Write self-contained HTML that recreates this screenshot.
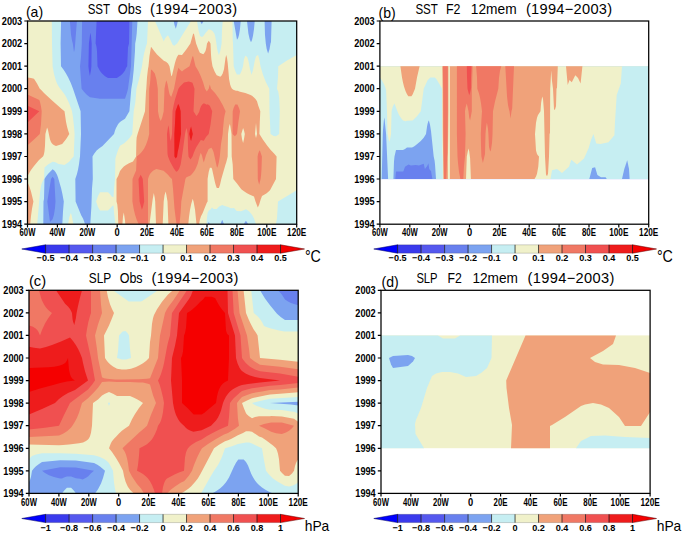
<!DOCTYPE html>
<html><head><meta charset="utf-8"><title>Hovmoller</title>
<style>html,body{margin:0;padding:0;background:#fff}svg{display:block}text{font-family:"Liberation Sans",sans-serif;fill:#000}.b{font-weight:bold}</style></head>
<body>
<svg width="685" height="533" viewBox="0 0 685 533">
<rect width="685" height="533" fill="#fff"/>
<g id="panel-a">
<g shape-rendering="geometricPrecision">
<rect x="27.5" y="21.0" width="269.2" height="203.2" fill="#5558ee"/>
<path fill="#6880ee" fill-rule="evenodd" d="M27.5 21.0L96.6 21.0L95.6 43.6L96.1 45.0L96.6 47.4L97.0 51.2L97.5 66.2L100.0 70.9L102.0 73.5L105.0 76.2L108.0 78.0L116.8 78.0L118.0 77.3L121.0 75.2L123.0 73.2L125.0 70.5L126.0 68.0L127.2 66.2L128.0 47.4L129.0 43.6L129.4 21.0L296.7 21.0L296.7 224.2L27.5 224.2ZM88.9 43.6L88.4 66.2L89.0 71.2L89.9 76.1L91.0 70.2L91.4 66.2L91.7 43.6L91.0 35.9L90.3 32.8Z"/>
<path fill="#7ca3f0" fill-rule="evenodd" d="M27.5 21.0L69.9 21.0L71.0 34.6L72.0 40.6L72.8 43.6L74.0 52.3L74.6 49.5L75.0 46.1L76.9 21.0L82.1 21.0L81.8 43.6L81.0 57.0L80.0 66.2L81.6 88.7L84.0 91.7L86.0 93.9L88.0 95.7L90.0 97.3L100.0 98.7L125.0 98.7L127.0 92.8L128.0 88.7L131.0 66.2L132.3 21.0L296.7 21.0L296.7 224.2L27.5 224.2ZM51.0 179.0L47.3 201.6L50.0 222.0L52.6 219.2L54.0 214.6L55.0 207.9L55.5 201.6L54.3 179.0L52.6 176.8Z"/>
<path fill="#c6eef2" fill-rule="evenodd" d="M27.5 21.0L61.1 21.0L60.6 43.6L61.0 66.2L63.8 70.0L66.0 73.5L68.1 77.3L70.8 82.9L73.0 88.7L80.6 111.3L81.0 133.9L80.0 156.5L79.0 164.2L78.0 169.8L76.9 174.3L75.3 179.0L75.6 201.6L81.2 215.3L83.0 218.4L84.0 220.9L85.0 224.2L62.3 224.2L63.0 211.6L63.8 201.6L62.3 193.5L61.1 188.2L58.0 177.4L57.0 174.8L55.5 172.1L54.3 170.5L52.6 169.2L48.0 173.9L46.0 176.6L44.5 179.0L44.0 199.0L43.5 201.6L43.3 224.2L27.5 224.2ZM135.2 43.6L136.0 39.3L136.7 33.4L137.5 21.0L173.7 21.0L174.5 25.1L175.8 28.8L177.0 24.7L177.8 21.0L200.0 21.0L201.8 24.2L203.5 21.0L233.7 21.0L237.0 39.8L238.2 37.8L239.0 35.0L240.0 28.8L240.7 21.0L247.0 21.0L248.4 33.5L249.7 39.3L251.0 42.3L252.0 39.9L253.0 35.8L254.0 29.1L254.7 21.0L264.6 21.0L265.0 34.9L265.8 43.6L266.7 49.0L268.1 53.6L269.5 49.3L270.5 43.6L271.0 41.9L271.6 21.0L296.7 21.0L296.7 224.2L248.3 224.2L245.9 220.7L243.6 224.2L224.0 224.2L222.2 219.8L220.4 224.2L210.0 224.2L208.8 221.9L207.6 224.2L90.3 224.2L91.4 206.5L92.0 188.6L92.8 179.0L92.5 156.5L94.0 153.9L96.6 150.6L99.0 148.4L102.5 146.1L114.0 133.9L115.0 130.4L116.0 127.9L117.9 124.5L119.0 123.1L121.0 121.2L123.0 119.9L125.0 118.8L129.4 111.3L131.3 88.7L132.5 81.5L133.7 70.1L135.0 50.7Z"/>
<path fill="#f0f1ca" fill-rule="evenodd" d="M27.5 21.0L51.8 21.0L52.0 43.6L52.6 66.2L54.0 74.1L55.5 79.6L57.0 83.4L59.0 87.0L64.5 94.3L66.0 96.8L69.0 103.0L71.0 108.2L72.0 111.3L73.0 117.6L74.0 126.5L74.6 133.9L73.7 156.5L71.5 158.7L69.4 161.4L67.0 163.3L64.4 165.0L62.0 164.4L58.5 163.9L56.0 162.5L54.3 161.9L52.6 161.7L48.0 164.4L44.5 167.5L44.0 179.0L43.0 180.5L41.7 183.6L41.0 186.2L40.0 192.6L37.2 224.2L27.5 224.2ZM147.0 43.6L148.0 21.0L155.0 21.0L163.8 41.4L164.5 39.6L165.6 37.8L166.4 36.7L168.0 35.3L170.0 39.1L172.5 44.4L173.7 45.5L174.5 45.8L175.5 44.7L177.1 43.4L191.0 21.0L197.0 21.0L198.5 30.5L200.0 36.1L201.8 37.1L203.2 36.3L205.5 32.9L208.8 29.3L210.5 29.8L211.4 30.3L212.5 31.1L213.6 32.4L214.3 33.6L215.0 35.5L216.0 40.7L217.2 49.3L218.0 52.4L218.9 54.9L220.3 51.0L221.6 43.6L222.0 30.5L222.7 21.0L232.5 21.0L232.7 39.4L233.0 43.6L233.7 66.2L235.2 71.0L236.9 74.5L239.8 74.6L241.0 72.2L242.0 69.7L243.0 66.2L244.0 59.3L245.3 55.8L247.2 56.9L248.4 60.8L250.0 69.0L251.6 74.8L253.0 70.0L254.7 61.1L256.0 56.4L256.1 56.2L258.0 54.9L258.1 55.0L259.4 59.8L260.5 66.2L262.9 74.6L265.8 82.0L269.3 88.7L269.5 111.3L270.5 133.9L273.6 135.9L276.1 136.2L279.2 133.9L279.8 111.3L279.2 97.8L278.3 91.8L277.0 88.7L278.0 77.1L278.3 66.2L287.0 60.4L296.7 54.9L296.7 190.3L278.0 201.6L277.0 218.0L276.6 220.7L275.8 224.2L256.0 224.2L254.0 218.4L252.0 214.8L249.5 211.8L248.0 210.6L245.9 209.2L243.6 210.3L241.0 211.2L236.7 211.0L234.0 208.1L230.9 208.2L228.1 206.9L224.0 205.7L222.2 205.0L218.8 206.8L216.8 208.9L213.6 209.1L212.0 207.4L210.5 209.6L208.8 210.6L207.6 212.9L206.9 218.4L206.4 224.2L115.4 224.2L114.0 212.7L113.5 205.3L112.0 206.2L110.0 208.6L108.0 210.4L100.0 210.4L98.0 207.0L96.1 201.6L98.0 195.9L100.0 192.3L108.0 192.3L110.0 194.2L112.0 196.7L113.5 197.3L114.0 188.9L115.0 179.0L115.4 158.4L116.5 154.7L118.0 150.2L120.0 145.8L123.8 143.4L127.0 140.8L130.0 137.4L132.3 133.9L133.7 111.3L135.2 103.2L136.0 95.0L136.4 88.7L138.7 80.6L141.0 70.9L142.0 66.2L143.0 59.1L144.2 52.9L146.0 46.3ZM68.1 224.2L69.3 217.2L70.8 212.9L71.5 214.7L73.4 224.2Z"/>
<path fill="#f0a27a" fill-rule="evenodd" d="M190.4 43.6L193.2 33.5L194.0 34.0L196.1 43.6L197.8 48.1L199.0 50.9L199.9 52.7L203.2 54.3L204.0 53.5L205.5 50.9L206.4 47.6L207.0 43.6L208.8 40.7L210.5 43.6L211.0 54.7L211.4 59.6L212.5 66.2L214.6 71.4L216.7 75.3L220.3 76.8L221.6 75.4L222.7 73.5L224.0 69.2L225.5 58.1L226.2 54.9L227.0 57.9L227.7 62.9L229.1 79.3L230.2 84.7L231.0 86.9L232.0 88.7L233.3 89.7L236.0 90.8L237.4 90.8L240.0 91.8L245.3 93.0L250.0 94.7L252.0 95.8L254.0 97.4L255.5 99.0L257.0 101.2L258.2 105.6L260.3 111.3L259.8 121.7L259.4 133.9L263.0 139.7L267.1 145.5L270.5 149.8L274.3 153.7L276.6 156.5L276.0 179.0L270.0 190.2L266.7 193.2L264.6 194.6L262.0 196.0L260.6 199.8L259.2 204.4L257.8 207.4L255.5 201.6L254.0 196.5L250.0 194.8L247.0 193.2L244.0 191.3L241.3 189.2L237.0 183.4L233.3 179.0L232.7 164.4L231.7 156.5L231.5 133.9L230.2 125.6L229.8 123.9L229.0 126.8L228.0 133.9L227.7 156.5L226.2 162.5L225.5 164.5L221.3 179.0L220.0 184.8L218.9 188.0L216.8 188.0L216.0 186.1L215.0 182.6L212.0 168.7L211.4 167.8L209.9 167.8L208.7 171.9L207.6 179.0L207.6 201.6L206.8 202.8L202.7 212.9L201.0 216.3L199.9 219.7L199.0 224.2L196.5 224.2L195.0 209.6L193.6 201.8L192.7 198.7L191.2 204.0L190.0 209.9L189.0 217.1L188.3 224.2L168.4 224.2L167.5 201.6L166.4 195.0L165.6 191.5L164.5 195.4L163.7 201.6L162.7 224.2L156.0 224.2L155.2 201.6L154.8 198.0L153.8 193.1L152.6 199.7L149.5 224.2L125.3 224.2L125.0 220.5L123.8 212.5L123.0 216.6L122.4 224.2L118.3 224.2L117.9 210.8L117.3 204.6L116.5 201.6L116.5 179.0L118.3 175.7L120.0 171.1L122.0 168.4L123.8 166.5L126.0 164.9L129.0 163.2L132.5 161.7L133.0 161.4L136.1 156.5L136.4 140.9L136.7 137.2L137.6 133.9L145.0 111.3L146.0 91.2L146.3 88.7L147.0 77.2L148.0 68.8L148.5 66.2L149.5 56.0L151.0 46.7L154.0 50.8L157.0 54.4L163.8 60.7L166.0 61.8L168.0 63.5L169.5 66.2L171.2 75.6L171.8 76.3L175.0 62.7L176.0 59.4L177.0 56.9L178.4 54.7L182.0 55.1L186.3 49.5ZM241.3 133.9L242.0 139.1L243.1 143.1L244.0 138.9L244.8 133.9L244.0 130.6L243.1 128.0ZM255.0 133.9L256.0 137.9L257.0 133.9L256.0 122.9ZM27.5 77.4L31.0 78.0L34.0 78.8L37.0 83.5L39.8 88.7L41.0 89.7L41.7 90.6L44.0 92.9L51.8 100.3L62.0 109.3L64.5 111.3L66.0 121.8L67.0 126.5L68.1 130.5L69.3 133.9L66.0 139.2L62.2 143.9L56.0 146.1L54.3 145.3L53.0 144.5L51.8 143.3L51.0 142.0L50.0 139.6L48.0 129.9L47.1 127.5L45.4 133.9L45.0 145.7L44.5 151.2L44.0 153.9L43.5 155.4L43.0 156.5L39.0 160.0L34.0 165.9L31.0 170.1L27.5 175.9ZM27.5 182.2L29.0 185.6L31.0 191.6L33.4 201.6L32.0 208.8L31.0 216.1L30.2 224.2L27.5 224.2Z"/>
<path fill="#f07864" fill-rule="evenodd" d="M189.5 66.2L192.5 56.2L193.2 56.5L195.5 66.2L198.5 71.2L200.8 76.2L203.0 81.9L205.0 88.7L206.8 91.4L208.7 88.7L209.8 84.4L211.0 88.7L215.0 93.1L219.0 98.6L222.7 105.0L225.6 111.3L224.5 115.7L224.0 118.7L223.0 128.8L222.7 133.9L221.0 143.9L219.8 156.5L218.8 162.5L218.0 165.7L217.2 167.8L216.8 166.7L213.6 152.2L212.5 149.4L211.4 147.8L208.7 148.9L206.0 155.0L203.8 162.5L203.0 160.0L202.0 155.8L200.8 152.7L199.5 156.5L197.8 163.5L196.4 167.0L195.0 170.0L193.2 172.6L191.8 174.3L190.5 175.4L187.0 176.9L186.2 177.5L185.4 179.0L181.3 201.6L180.7 212.0L179.5 224.2L176.6 224.2L176.0 220.7L174.5 208.7L173.0 188.8L172.0 179.0L170.0 177.2L168.0 174.7L163.6 170.7L156.4 169.0L154.8 169.8L153.0 170.8L151.0 172.7L150.0 174.1L149.0 176.1L148.0 179.0L148.0 224.2L138.7 224.2L136.7 219.7L135.0 214.4L133.7 209.0L132.4 201.6L132.5 179.0L134.0 175.2L136.1 170.6L136.7 156.5L139.0 154.7L141.0 152.8L142.8 150.6L144.2 148.4L146.0 144.8L147.0 142.1L148.0 138.9L149.2 133.9L149.0 111.3L149.2 88.7L150.0 83.4L150.4 78.7L151.0 69.4L152.2 70.2L154.8 73.5L156.4 79.2L157.8 88.7L158.0 111.3L159.0 116.8L160.0 119.6L160.8 121.1L162.2 117.4L163.7 111.3L164.5 88.7L165.6 83.0L166.4 80.3L167.5 84.1L169.0 92.1L169.5 93.9L170.0 95.2L171.2 97.1L174.0 88.7L177.0 73.1L178.4 67.8L180.0 69.8L182.0 71.4L184.0 69.8ZM27.5 94.4L39.3 99.9L40.0 102.0L41.0 106.4L41.7 111.3L41.0 124.3L39.8 133.9L34.0 139.5L27.5 145.2ZM232.7 111.3L233.7 107.8L235.2 104.4L237.4 104.5L239.0 108.0L240.0 111.3L238.2 123.5L237.0 133.9L234.8 136.2L232.5 133.9ZM257.6 156.5L258.2 153.4L259.0 151.4L259.8 150.2L261.9 156.5L261.5 169.1L261.1 174.7L260.6 179.0L259.2 184.7L258.2 181.3L257.8 179.0Z"/>
<path fill="#f05050" fill-rule="evenodd" d="M178.4 88.7L180.0 86.4L184.0 82.4L188.9 81.4L189.5 81.8L191.2 82.2L192.5 82.8L194.5 88.7L193.5 111.3L196.4 116.0L197.7 114.5L199.0 112.3L199.4 111.3L200.0 108.8L201.0 106.3L202.2 104.6L203.9 103.2L206.9 104.7L207.7 104.3L209.8 105.7L212.2 111.3L210.5 124.8L208.7 133.9L206.0 137.0L203.8 140.7L200.8 140.1L197.8 144.7L196.1 147.6L194.0 152.2L192.5 156.5L190.5 159.6L188.5 156.5L188.0 148.1L187.7 133.9L187.0 130.1L186.3 127.9L185.0 133.9L183.0 149.6L180.7 164.3L180.0 166.6L179.0 168.9L177.8 170.7L176.7 171.7L175.8 171.3L173.7 168.2L170.0 161.4L168.0 156.5L167.5 153.7L167.0 133.9L168.3 125.2L169.0 128.1L170.0 137.9L170.8 141.0L172.0 133.9L172.5 111.3L173.7 105.1L175.0 99.6ZM27.5 105.7L39.3 111.3L27.5 122.6ZM138.5 179.0L140.7 174.8L141.9 177.0L142.8 179.0L144.2 201.6L143.0 206.8L141.9 209.8L139.6 201.6Z"/>
<path fill="#ee1c1c" fill-rule="evenodd" d="M175.5 111.3L178.1 104.1L178.7 104.8L179.5 106.7L180.7 111.3L181.0 133.9L178.7 147.7L177.8 151.4L177.1 156.5L175.8 158.4L174.4 156.5L174.3 133.9L175.0 123.2ZM189.3 133.9L190.0 129.8L191.1 126.4L192.8 133.9L191.1 141.1L190.5 139.7Z"/>
</g>
<rect x="27.5" y="21.0" width="269.2" height="203.2" fill="none" stroke="#000" stroke-width="1.25"/>
<text class="b" x="22.2" y="227.8" font-size="10.6" text-anchor="end" textLength="20.4" lengthAdjust="spacingAndGlyphs">1994</text>
<text class="b" x="19.6" y="236.4" font-size="10.6" textLength="15.8" lengthAdjust="spacingAndGlyphs">60W</text>
<text class="b" x="22.2" y="205.3" font-size="10.6" text-anchor="end" textLength="20.4" lengthAdjust="spacingAndGlyphs">1995</text>
<text class="b" x="49.5" y="236.4" font-size="10.6" textLength="15.8" lengthAdjust="spacingAndGlyphs">40W</text>
<text class="b" x="22.2" y="182.7" font-size="10.6" text-anchor="end" textLength="20.4" lengthAdjust="spacingAndGlyphs">1996</text>
<text class="b" x="79.4" y="236.4" font-size="10.6" textLength="15.8" lengthAdjust="spacingAndGlyphs">20W</text>
<text class="b" x="22.2" y="160.1" font-size="10.6" text-anchor="end" textLength="20.4" lengthAdjust="spacingAndGlyphs">1997</text>
<text class="b" x="114.6" y="236.4" font-size="10.6" textLength="5.2" lengthAdjust="spacingAndGlyphs">0</text>
<text class="b" x="22.2" y="137.5" font-size="10.6" text-anchor="end" textLength="20.4" lengthAdjust="spacingAndGlyphs">1998</text>
<text class="b" x="140.1" y="236.4" font-size="10.6" textLength="14.0" lengthAdjust="spacingAndGlyphs">20E</text>
<text class="b" x="22.2" y="115.0" font-size="10.6" text-anchor="end" textLength="20.4" lengthAdjust="spacingAndGlyphs">1999</text>
<text class="b" x="170.1" y="236.4" font-size="10.6" textLength="14.0" lengthAdjust="spacingAndGlyphs">40E</text>
<text class="b" x="22.2" y="92.4" font-size="10.6" text-anchor="end" textLength="20.4" lengthAdjust="spacingAndGlyphs">2000</text>
<text class="b" x="200.0" y="236.4" font-size="10.6" textLength="14.0" lengthAdjust="spacingAndGlyphs">60E</text>
<text class="b" x="22.2" y="69.8" font-size="10.6" text-anchor="end" textLength="20.4" lengthAdjust="spacingAndGlyphs">2001</text>
<text class="b" x="229.9" y="236.4" font-size="10.6" textLength="14.0" lengthAdjust="spacingAndGlyphs">80E</text>
<text class="b" x="22.2" y="47.2" font-size="10.6" text-anchor="end" textLength="20.4" lengthAdjust="spacingAndGlyphs">2002</text>
<text class="b" x="257.2" y="236.4" font-size="10.6" textLength="19.2" lengthAdjust="spacingAndGlyphs">100E</text>
<text class="b" x="22.2" y="24.6" font-size="10.6" text-anchor="end" textLength="20.4" lengthAdjust="spacingAndGlyphs">2003</text>
<text class="b" x="287.1" y="236.4" font-size="10.6" textLength="19.2" lengthAdjust="spacingAndGlyphs">120E</text>
<path d="M24.3 224.2H27.5M27.5 224.2V227.4M24.3 201.6H27.5M57.4 224.2V227.4M24.3 179.0H27.5M87.3 224.2V227.4M24.3 156.5H27.5M117.2 224.2V227.4M24.3 133.9H27.5M147.1 224.2V227.4M24.3 111.3H27.5M177.1 224.2V227.4M24.3 88.7H27.5M207.0 224.2V227.4M24.3 66.2H27.5M236.9 224.2V227.4M24.3 43.6H27.5M266.8 224.2V227.4M24.3 21.0H27.5M296.7 224.2V227.4" stroke="#000" stroke-width="1.2" fill="none"/>
<text x="87.7" y="13.8" font-size="14.6" textLength="22.4" lengthAdjust="spacingAndGlyphs">SST</text>
<text x="117.8" y="13.8" font-size="14.6" textLength="23.5" lengthAdjust="spacingAndGlyphs">Obs</text>
<text x="150.0" y="13.8" font-size="14.6" textLength="87.1" lengthAdjust="spacing">(1994−2003)</text>
<text x="25.9" y="16.5" font-size="14.6" textLength="17.2" lengthAdjust="spacingAndGlyphs">(a)</text>
<path d="M21.8 249.0L45.6 244.8V253.2Z" fill="#0000ff" stroke="#00008c" stroke-width="0.4"/>
<path d="M304.5 249.0L280.5 244.8V253.2Z" fill="#f50000" stroke="#8c0000" stroke-width="0.4"/>
<rect x="45.60" y="244.8" width="23.49" height="8.4" fill="#3a3aec"/>
<rect x="69.09" y="244.8" width="23.49" height="8.4" fill="#5558ee"/>
<rect x="92.58" y="244.8" width="23.49" height="8.4" fill="#6880ee"/>
<rect x="116.07" y="244.8" width="23.49" height="8.4" fill="#7ca3f0"/>
<rect x="139.56" y="244.8" width="23.49" height="8.4" fill="#c6eef2"/>
<rect x="163.05" y="244.8" width="23.49" height="8.4" fill="#f0f1ca"/>
<rect x="186.54" y="244.8" width="23.49" height="8.4" fill="#f0a27a"/>
<rect x="210.03" y="244.8" width="23.49" height="8.4" fill="#f07864"/>
<rect x="233.52" y="244.8" width="23.49" height="8.4" fill="#f05050"/>
<rect x="257.01" y="244.8" width="23.49" height="8.4" fill="#ee1c1c"/>
<text class="b" x="45.6" y="261.0" font-size="9.1" text-anchor="middle">−0.5</text>
<text class="b" x="69.1" y="261.0" font-size="9.1" text-anchor="middle">−0.4</text>
<text class="b" x="92.6" y="261.0" font-size="9.1" text-anchor="middle">−0.3</text>
<text class="b" x="116.1" y="261.0" font-size="9.1" text-anchor="middle">−0.2</text>
<text class="b" x="139.6" y="261.0" font-size="9.1" text-anchor="middle">−0.1</text>
<text class="b" x="163.1" y="261.0" font-size="9.1" text-anchor="middle">0</text>
<text class="b" x="186.5" y="261.0" font-size="9.1" text-anchor="middle">0.1</text>
<text class="b" x="210.0" y="261.0" font-size="9.1" text-anchor="middle">0.2</text>
<text class="b" x="233.5" y="261.0" font-size="9.1" text-anchor="middle">0.3</text>
<text class="b" x="257.0" y="261.0" font-size="9.1" text-anchor="middle">0.4</text>
<text class="b" x="280.5" y="261.0" font-size="9.1" text-anchor="middle">0.5</text>
<path d="M45.60 244.8V253.2M69.09 244.8V253.2M92.58 244.8V253.2M116.07 244.8V253.2M139.56 244.8V253.2M163.05 244.8V253.2M186.54 244.8V253.2M210.03 244.8V253.2M233.52 244.8V253.2M257.01 244.8V253.2M280.50 244.8V253.2" stroke="#111" stroke-opacity="0.9" stroke-width="0.8" fill="none"/>
<path d="M21.8 249.0L45.6 244.8H280.5L304.5 249.0L280.5 253.2H45.6Z" fill="none" stroke="#000" stroke-opacity="0.35" stroke-width="0.5"/>
<text x="304.9" y="262.3" font-size="16.4" textLength="16.0" lengthAdjust="spacingAndGlyphs">°C</text>
</g>
<g id="panel-b">
<g shape-rendering="geometricPrecision">
<rect x="379.9" y="66.2" width="268.8" height="112.9" fill="#6880ee"/>
<path fill="#7ca3f0" fill-rule="evenodd" d="M379.9 66.2L648.7 66.2L648.7 179.0L432.4 179.0L431.0 170.9L429.0 169.0L427.0 170.2L424.0 171.5L396.0 171.5L395.3 179.0L379.9 179.0Z"/>
<path fill="#c6eef2" fill-rule="evenodd" d="M379.9 66.2L648.7 66.2L648.7 179.0L436.0 179.0L435.0 164.2L434.6 160.8L433.7 156.5L431.0 131.1L430.0 124.8L429.0 121.1L428.6 120.5L427.6 123.8L427.0 126.8L426.0 133.9L423.7 137.7L420.8 140.9L416.0 145.0L414.0 146.4L412.0 147.4L407.0 147.4L405.0 148.9L403.0 149.9L396.0 149.9L394.5 156.5L394.0 161.6L393.4 179.0L388.1 179.0L386.1 133.9L384.4 117.4L383.9 120.1L383.0 129.9L382.8 133.9L381.7 179.0L379.9 179.0Z"/>
<path fill="#f0f1ca" fill-rule="evenodd" d="M379.9 66.2L648.7 66.2L648.7 179.0L442.8 179.0L442.6 156.5L442.3 152.7L442.0 88.7L440.0 85.0L436.0 78.4L434.6 77.4L430.3 77.4L427.6 80.3L423.7 88.7L420.8 111.3L417.0 116.2L412.6 120.6L407.0 120.7L405.6 121.3L403.0 120.4L401.0 118.1L399.0 114.9L397.4 111.3L394.5 103.4L393.0 105.9L392.0 109.2L391.6 111.3L391.0 133.9L390.0 139.7L389.6 141.1L389.2 141.7L387.5 133.9L387.0 111.3L386.1 89.9L385.0 86.5L383.9 84.0L382.0 80.4L379.9 77.4Z"/>
<path fill="#f0a27a" fill-rule="evenodd" d="M400.4 66.2L419.6 66.2L417.0 77.5L415.0 88.7L412.6 94.4L411.4 96.3L408.3 96.3L407.0 94.2L405.6 91.2L404.0 86.4L403.0 82.4L402.0 77.4ZM442.3 66.2L448.4 66.2L448.4 111.3L448.0 152.7L447.8 156.5L447.9 179.0L443.4 179.0L442.8 133.9L442.6 88.7ZM449.9 66.2L557.8 66.2L557.0 87.7L556.5 88.7L556.0 106.2L555.0 109.6L554.8 109.9L554.0 109.3L553.0 88.7L552.0 80.9L551.2 70.4L550.2 88.7L550.0 132.9L549.6 133.9L549.0 156.5L548.0 173.8L547.0 176.3L546.0 174.5L545.0 156.5L544.0 111.3L543.0 99.1L542.2 96.6L541.1 103.1L540.5 111.3L538.0 114.9L537.0 117.7L536.0 122.7L535.0 133.9L536.0 150.5L537.0 154.0L538.0 155.6L539.0 156.5L538.3 166.4L537.0 173.8L536.0 176.6L534.5 179.0L470.9 179.0L470.1 158.3L469.2 151.2L468.4 148.5L466.8 156.5L466.0 179.0L449.9 179.0Z"/>
<path fill="#f07864" fill-rule="evenodd" d="M442.9 66.2L447.8 66.2L447.8 111.3L447.6 133.9L447.2 156.5L446.3 179.0L444.0 179.0L443.4 133.9L443.2 88.7ZM456.9 66.2L472.6 66.2L472.0 87.3L471.8 88.7L471.8 111.3L470.1 120.6L469.2 117.5L468.5 111.3L466.8 103.4L465.6 107.4L465.0 111.3L465.6 133.9L465.0 156.5L464.0 166.0L463.3 179.0L460.4 179.0L459.0 171.9L458.0 163.1L457.5 156.5L456.9 133.9ZM476.1 66.2L501.3 66.2L500.0 70.7L499.0 77.8L498.3 88.7L495.0 101.5L493.0 111.3L492.5 134.5L492.0 143.1L491.0 149.8L490.4 151.5L490.0 150.8L489.0 146.9L488.4 133.9L488.0 129.0L486.9 122.6L486.0 128.1L485.5 133.9L485.0 154.0L482.9 163.0L481.4 156.5L481.0 146.3L480.8 133.9L481.4 120.3L482.0 111.3L481.0 103.2L480.0 97.7L479.0 93.6L477.3 88.7L477.0 77.1ZM505.3 66.2L514.0 66.2L512.2 108.3L511.5 111.3L510.5 118.6L509.5 111.3L508.8 108.8L508.0 104.9L507.0 96.3Z"/>
<path fill="#f05050" fill-rule="evenodd" d="M466.8 66.2L471.5 66.2L471.0 77.2L470.9 88.7L470.1 92.8L469.2 95.2L467.5 88.7L467.0 76.9Z"/>
<path fill="#6880ee" d="M399.8 179.0L402.1 174.9L405.0 166.7L408.5 164.4L410.9 165.6L415.6 165.0L419.0 165.6L423.7 163.8L424.9 169.0L427.2 166.1L428.4 163.2L429.6 171.4L431.3 179.0Z"/>
<path fill="#c6eef2" d="M622.0 66.2L620.8 83.4L616.7 95.0L615.0 122.0L614.4 135.2L608.5 142.2L600.4 144.0L596.3 143.4L593.4 134.0L591.0 139.9L588.7 148.0L584.0 158.6L577.0 164.4L571.3 159.7L569.0 166.7L562.0 173.0L557.0 169.0L552.0 170.2L550.5 179.0L648.7 179.0L648.7 66.2Z"/>
<path fill="#f0a27a" d="M566.0 66.2L567.7 85.1L569.5 80.0L571.8 82.2L575.3 75.2L578.0 78.0L580.6 83.4L582.4 66.2Z"/>
<path fill="#7ca3f0" d="M589.3 179.0L592.2 167.9L595.1 167.3L597.4 174.9L601.0 177.2L605.6 177.2L606.8 179.0Z"/>
<path fill="#7ca3f0" d="M622.0 179.0L624.3 169.0L627.2 160.3L629.0 169.0L629.6 179.0Z"/>
</g>
<rect x="379.9" y="21.0" width="268.8" height="203.2" fill="none" stroke="#000" stroke-width="1.25"/>
<text class="b" x="374.6" y="227.8" font-size="10.6" text-anchor="end" textLength="20.4" lengthAdjust="spacingAndGlyphs">1994</text>
<text class="b" x="372.0" y="236.4" font-size="10.6" textLength="15.8" lengthAdjust="spacingAndGlyphs">60W</text>
<text class="b" x="374.6" y="205.3" font-size="10.6" text-anchor="end" textLength="20.4" lengthAdjust="spacingAndGlyphs">1995</text>
<text class="b" x="401.9" y="236.4" font-size="10.6" textLength="15.8" lengthAdjust="spacingAndGlyphs">40W</text>
<text class="b" x="374.6" y="182.7" font-size="10.6" text-anchor="end" textLength="20.4" lengthAdjust="spacingAndGlyphs">1996</text>
<text class="b" x="431.7" y="236.4" font-size="10.6" textLength="15.8" lengthAdjust="spacingAndGlyphs">20W</text>
<text class="b" x="374.6" y="160.1" font-size="10.6" text-anchor="end" textLength="20.4" lengthAdjust="spacingAndGlyphs">1997</text>
<text class="b" x="466.9" y="236.4" font-size="10.6" textLength="5.2" lengthAdjust="spacingAndGlyphs">0</text>
<text class="b" x="374.6" y="137.5" font-size="10.6" text-anchor="end" textLength="20.4" lengthAdjust="spacingAndGlyphs">1998</text>
<text class="b" x="492.4" y="236.4" font-size="10.6" textLength="14.0" lengthAdjust="spacingAndGlyphs">20E</text>
<text class="b" x="374.6" y="115.0" font-size="10.6" text-anchor="end" textLength="20.4" lengthAdjust="spacingAndGlyphs">1999</text>
<text class="b" x="522.2" y="236.4" font-size="10.6" textLength="14.0" lengthAdjust="spacingAndGlyphs">40E</text>
<text class="b" x="374.6" y="92.4" font-size="10.6" text-anchor="end" textLength="20.4" lengthAdjust="spacingAndGlyphs">2000</text>
<text class="b" x="552.1" y="236.4" font-size="10.6" textLength="14.0" lengthAdjust="spacingAndGlyphs">60E</text>
<text class="b" x="374.6" y="69.8" font-size="10.6" text-anchor="end" textLength="20.4" lengthAdjust="spacingAndGlyphs">2001</text>
<text class="b" x="582.0" y="236.4" font-size="10.6" textLength="14.0" lengthAdjust="spacingAndGlyphs">80E</text>
<text class="b" x="374.6" y="47.2" font-size="10.6" text-anchor="end" textLength="20.4" lengthAdjust="spacingAndGlyphs">2002</text>
<text class="b" x="609.2" y="236.4" font-size="10.6" textLength="19.2" lengthAdjust="spacingAndGlyphs">100E</text>
<text class="b" x="374.6" y="24.6" font-size="10.6" text-anchor="end" textLength="20.4" lengthAdjust="spacingAndGlyphs">2003</text>
<text class="b" x="639.1" y="236.4" font-size="10.6" textLength="19.2" lengthAdjust="spacingAndGlyphs">120E</text>
<path d="M376.7 224.2H379.9M379.9 224.2V227.4M376.7 201.6H379.9M409.8 224.2V227.4M376.7 179.0H379.9M439.6 224.2V227.4M376.7 156.5H379.9M469.5 224.2V227.4M376.7 133.9H379.9M499.4 224.2V227.4M376.7 111.3H379.9M529.2 224.2V227.4M376.7 88.7H379.9M559.1 224.2V227.4M376.7 66.2H379.9M589.0 224.2V227.4M376.7 43.6H379.9M618.8 224.2V227.4M376.7 21.0H379.9M648.7 224.2V227.4" stroke="#000" stroke-width="1.2" fill="none"/>
<text x="415.4" y="13.8" font-size="14.6" textLength="22.5" lengthAdjust="spacingAndGlyphs">SST</text>
<text x="445.9" y="13.8" font-size="14.6" textLength="14.5" lengthAdjust="spacingAndGlyphs">F2</text>
<text x="470.8" y="13.8" font-size="14.6" textLength="45.8" lengthAdjust="spacingAndGlyphs">12mem</text>
<text x="525.9" y="13.8" font-size="14.6" textLength="86.2" lengthAdjust="spacing">(1994−2003)</text>
<text x="378.6" y="17.5" font-size="14.6" textLength="17.2" lengthAdjust="spacingAndGlyphs">(b)</text>
<path d="M373.8 249.0L397.6 244.8V253.2Z" fill="#0000ff" stroke="#00008c" stroke-width="0.4"/>
<path d="M656.5 249.0L632.5 244.8V253.2Z" fill="#f50000" stroke="#8c0000" stroke-width="0.4"/>
<rect x="397.60" y="244.8" width="23.49" height="8.4" fill="#3a3aec"/>
<rect x="421.09" y="244.8" width="23.49" height="8.4" fill="#5558ee"/>
<rect x="444.58" y="244.8" width="23.49" height="8.4" fill="#6880ee"/>
<rect x="468.07" y="244.8" width="23.49" height="8.4" fill="#7ca3f0"/>
<rect x="491.56" y="244.8" width="23.49" height="8.4" fill="#c6eef2"/>
<rect x="515.05" y="244.8" width="23.49" height="8.4" fill="#f0f1ca"/>
<rect x="538.54" y="244.8" width="23.49" height="8.4" fill="#f0a27a"/>
<rect x="562.03" y="244.8" width="23.49" height="8.4" fill="#f07864"/>
<rect x="585.52" y="244.8" width="23.49" height="8.4" fill="#f05050"/>
<rect x="609.01" y="244.8" width="23.49" height="8.4" fill="#ee1c1c"/>
<text class="b" x="397.6" y="261.0" font-size="9.1" text-anchor="middle">−0.5</text>
<text class="b" x="421.1" y="261.0" font-size="9.1" text-anchor="middle">−0.4</text>
<text class="b" x="444.6" y="261.0" font-size="9.1" text-anchor="middle">−0.3</text>
<text class="b" x="468.1" y="261.0" font-size="9.1" text-anchor="middle">−0.2</text>
<text class="b" x="491.6" y="261.0" font-size="9.1" text-anchor="middle">−0.1</text>
<text class="b" x="515.0" y="261.0" font-size="9.1" text-anchor="middle">0</text>
<text class="b" x="538.5" y="261.0" font-size="9.1" text-anchor="middle">0.1</text>
<text class="b" x="562.0" y="261.0" font-size="9.1" text-anchor="middle">0.2</text>
<text class="b" x="585.5" y="261.0" font-size="9.1" text-anchor="middle">0.3</text>
<text class="b" x="609.0" y="261.0" font-size="9.1" text-anchor="middle">0.4</text>
<text class="b" x="632.5" y="261.0" font-size="9.1" text-anchor="middle">0.5</text>
<path d="M397.60 244.8V253.2M421.09 244.8V253.2M444.58 244.8V253.2M468.07 244.8V253.2M491.56 244.8V253.2M515.05 244.8V253.2M538.54 244.8V253.2M562.03 244.8V253.2M585.52 244.8V253.2M609.01 244.8V253.2M632.50 244.8V253.2" stroke="#111" stroke-opacity="0.9" stroke-width="0.8" fill="none"/>
<path d="M373.8 249.0L397.6 244.8H632.5L656.5 249.0L632.5 253.2H397.6Z" fill="none" stroke="#000" stroke-opacity="0.35" stroke-width="0.5"/>
<text x="656.9" y="262.3" font-size="16.4" textLength="16.0" lengthAdjust="spacingAndGlyphs">°C</text>
</g>
<g id="panel-c">
<g shape-rendering="geometricPrecision">
<rect x="29.0" y="290.3" width="269.2" height="203.1" fill="#6880ee"/>
<path fill="#7ca3f0" fill-rule="evenodd" d="M29.0 290.3L278.0 290.3L281.8 294.6L285.0 299.5L288.0 301.5L291.0 303.0L294.0 304.1L298.2 305.3L298.2 493.4L29.0 493.4ZM42.0 470.8L45.0 473.1L49.0 475.2L54.0 477.0L59.0 478.2L60.2 478.5L62.0 478.4L64.0 477.5L66.9 476.5L71.1 476.5L75.8 478.3L80.0 478.8L82.7 479.5L86.0 477.7L88.3 476.2L91.0 473.2L94.0 470.8L75.8 467.4L60.2 467.3L51.0 468.9Z"/>
<path fill="#c6eef2" fill-rule="evenodd" d="M29.0 290.3L260.0 290.3L265.0 298.4L270.0 305.3L277.0 313.7L279.0 315.6L281.0 317.3L285.0 319.9L298.2 319.9L298.2 401.7L270.0 403.1L291.0 404.6L298.2 405.6L298.2 493.4L273.0 493.4L269.0 491.8L265.0 489.6L262.0 487.6L259.0 485.1L257.0 483.0L255.0 480.4L253.0 477.3L251.2 473.8L248.0 465.4L246.0 462.1L243.7 459.5L238.3 459.5L237.9 459.9L236.0 462.8L234.0 466.4L229.0 477.5L226.0 482.2L223.0 485.7L220.0 488.4L216.0 491.2L212.0 493.4L95.0 493.4L98.0 489.3L101.0 483.5L103.0 478.1L105.0 470.8L103.0 468.9L100.0 466.6L97.0 464.6L94.0 463.1L75.8 460.6L60.2 460.2L42.0 462.1L39.0 463.9L36.0 466.2L34.0 468.2L32.0 470.8L31.0 476.7L30.0 480.0L29.0 482.1ZM62.0 493.4L64.0 490.7L66.9 487.8L71.1 487.8L74.0 490.7L76.0 493.4Z"/>
<path fill="#f0f1ca" fill-rule="evenodd" d="M29.0 290.3L113.0 290.3L128.8 301.6L140.7 301.6L142.2 301.0L158.0 290.3L251.2 290.3L253.7 312.9L257.6 316.2L260.0 319.0L262.0 322.0L264.0 326.0L267.0 327.3L271.0 328.6L279.0 330.5L283.0 331.3L285.0 331.6L298.2 331.6L298.2 397.0L270.0 398.8L261.0 400.8L252.0 403.1L254.0 404.6L257.0 406.1L262.0 407.8L266.0 408.9L270.0 409.7L281.8 410.1L291.0 411.4L294.0 411.8L298.2 413.6L298.2 482.1L297.0 483.3L295.0 484.6L292.0 485.7L289.1 486.4L284.9 485.8L277.0 481.2L273.0 478.4L269.0 474.5L266.0 470.8L264.0 460.3L262.0 448.3L257.0 446.1L252.0 443.6L249.1 442.6L246.0 442.6L237.9 443.9L232.0 446.2L225.0 448.3L222.0 456.8L219.0 463.2L217.0 466.6L214.0 470.8L210.0 477.4L201.0 493.4L116.0 493.4L115.0 489.1L114.0 482.4L113.0 470.8L110.0 465.0L109.0 463.3L108.0 462.1L105.0 459.4L100.0 457.1L94.0 455.3L75.8 453.7L60.2 453.2L42.0 453.3L36.0 454.6L32.0 456.0L30.0 458.0L29.0 459.5ZM109.0 402.4L108.0 403.1L109.0 405.9L110.0 403.1ZM119.0 335.4L118.0 350.9L117.0 358.0L121.9 359.5L126.1 359.5L131.0 358.0L130.0 348.9L129.0 335.4L128.8 335.0L127.0 332.4L125.5 330.9L122.5 331.5Z"/>
<path fill="#f0a27a" fill-rule="evenodd" d="M29.0 290.3L106.6 290.3L108.0 297.2L110.0 304.2L112.0 309.1L114.0 312.9L112.0 318.2L109.0 325.4L104.0 335.4L105.0 358.0L107.0 361.0L109.0 363.2L111.0 365.1L113.0 366.5L117.0 368.7L121.9 369.5L126.1 369.5L131.0 368.7L136.0 366.9L139.5 365.3L143.0 363.2L146.0 361.0L149.0 358.0L150.0 342.0L151.0 335.4L152.0 323.8L153.0 318.3L154.0 315.0L157.0 309.2L162.0 301.8L168.0 294.6L170.0 292.7L173.0 290.3L243.6 290.3L246.0 312.9L249.0 320.2L251.2 324.8L253.7 329.4L256.0 332.7L257.6 335.4L260.0 358.0L280.0 359.8L298.2 361.8L298.2 392.3L280.0 393.8L270.0 394.4L266.0 395.2L252.0 398.2L247.0 400.4L242.0 403.1L244.0 408.5L246.0 413.2L247.0 414.4L249.0 416.3L252.0 418.2L255.0 417.1L259.0 416.3L270.0 416.2L271.2 416.1L281.8 416.4L294.0 418.8L298.2 421.7L298.2 459.5L297.0 461.1L296.0 463.0L295.0 465.9L294.0 470.8L292.0 473.4L289.1 476.0L284.9 475.8L282.0 473.1L280.0 470.8L279.0 459.2L278.0 453.7L277.0 450.4L276.0 448.3L273.0 445.4L266.0 440.2L262.0 437.6L259.0 436.4L258.0 435.8L252.0 431.7L249.1 431.3L246.0 431.3L243.0 433.0L237.9 435.2L231.0 438.9L228.0 440.2L225.0 441.2L219.0 444.8L214.0 448.3L200.3 474.2L197.8 478.4L195.0 482.1L191.0 486.5L188.0 489.1L184.0 491.8L181.0 493.4L134.0 493.4L132.0 491.7L130.0 489.7L128.0 487.0L127.0 485.1L125.5 481.4L124.0 476.0L123.0 470.8L121.9 468.5L119.0 462.9L116.0 457.9L112.0 452.0L109.0 448.3L110.0 445.4L111.0 443.1L112.0 441.3L114.0 438.7L116.0 436.7L119.0 433.4L121.9 430.7L125.0 428.4L129.0 425.7L132.0 419.3L135.0 414.0L139.0 408.0L143.0 403.1L140.0 401.0L137.0 399.2L134.0 397.7L130.0 396.1L117.0 396.1L113.0 393.7L109.0 392.0L105.0 393.7L102.0 395.4L100.0 397.6L98.0 399.5L93.0 403.1L92.0 425.7L91.0 432.8L90.0 436.2L89.0 438.2L88.0 439.5L86.0 441.1L83.0 442.4L79.0 443.3L69.0 444.5L63.0 445.0L59.0 445.2L29.0 444.5Z"/>
<path fill="#f07864" fill-rule="evenodd" d="M29.0 290.3L100.0 290.3L101.0 304.4L102.0 312.9L98.0 324.6L95.0 335.4L97.0 349.2L98.0 358.0L102.0 377.2L104.0 378.2L107.0 378.8L115.0 379.4L121.9 379.6L139.0 379.2L147.0 378.7L150.0 378.3L158.0 358.0L159.0 345.3L160.0 335.4L165.0 312.9L167.0 309.0L169.0 305.9L173.0 300.8L180.0 290.3L237.5 290.3L239.5 312.9L247.0 335.4L249.0 349.0L250.0 358.0L255.0 361.8L260.0 364.7L280.0 366.7L298.2 369.3L298.2 387.6L280.0 389.4L270.0 390.1L262.0 391.4L252.0 393.2L247.0 394.9L242.0 397.1L239.5 399.7L237.0 403.1L237.9 418.2L239.0 425.7L235.0 428.7L230.0 431.8L228.0 432.9L224.0 434.6L216.0 439.0L208.0 444.0L202.0 448.3L199.8 452.1L197.0 457.7L194.0 465.0L192.0 470.8L189.0 475.6L185.0 480.3L184.0 481.3L181.0 482.6L175.0 486.4L171.0 489.6L167.0 493.4L144.0 493.4L141.0 488.6L139.0 486.2L137.0 484.1L136.0 482.6L132.0 476.5L129.0 470.8L128.0 463.2L127.0 458.3L126.1 455.1L125.0 452.3L124.0 450.4L122.5 448.3L126.1 444.7L135.0 436.4L139.5 432.3L144.0 428.6L147.0 425.7L151.0 414.7L156.0 403.1L153.0 395.3L150.0 384.6L148.0 383.7L145.0 383.0L143.0 382.6L139.0 382.4L130.0 382.0L117.0 382.0L109.0 381.6L102.0 381.9L100.0 385.1L98.0 387.8L94.0 392.3L88.0 398.3L82.0 403.1L79.0 412.8L77.0 417.7L75.0 421.6L72.9 425.1L71.1 427.4L69.0 429.6L67.0 431.2L63.0 433.7L59.0 435.5L29.0 437.0ZM259.0 425.7L264.0 424.1L271.2 422.5L281.8 422.6L294.0 425.7L292.0 428.3L289.1 430.7L286.0 432.4L281.8 433.9L276.0 433.2L271.2 431.8L265.0 428.4Z"/>
<path fill="#f05050" fill-rule="evenodd" d="M39.0 290.3L91.0 290.3L91.0 312.9L90.0 315.9L88.3 322.2L87.0 329.0L86.0 335.4L91.0 358.0L95.0 380.6L92.0 384.7L88.0 389.4L72.9 400.7L70.0 403.1L64.0 414.9L59.0 425.7L45.0 427.7L29.0 429.5L29.0 325.4L33.0 326.8L36.0 328.8L38.0 331.1L39.0 332.9L40.0 335.4L42.0 330.1L45.0 323.6L48.0 318.4L52.0 312.9L50.0 311.4L48.0 309.7L46.0 307.4L44.0 304.5L42.0 300.4L41.0 297.7ZM172.0 312.9L187.0 290.3L232.5 290.3L233.7 312.9L240.5 335.4L242.0 358.0L243.0 359.5L246.0 363.2L250.0 366.8L255.0 369.4L260.0 371.3L280.0 373.6L298.2 376.8L298.2 382.9L280.0 385.0L270.0 385.7L252.0 388.2L247.0 389.5L242.0 391.0L240.0 392.4L233.7 398.2L232.0 400.2L230.0 403.1L229.0 416.9L228.0 425.7L220.0 429.2L213.0 432.8L207.0 436.1L201.6 439.4L196.0 442.0L192.0 444.5L190.0 446.1L188.0 448.3L187.0 449.9L186.0 452.6L185.0 457.6L184.0 470.8L179.0 472.5L175.0 474.2L167.0 478.4L166.0 479.5L165.0 481.1L164.0 483.4L163.0 487.0L162.0 493.4L155.0 493.4L154.0 489.9L152.0 485.0L150.0 481.3L148.0 478.6L146.0 476.5L143.0 474.0L140.0 472.2L137.0 470.8L138.0 465.1L139.0 455.6L139.5 448.3L143.0 446.5L147.0 444.2L150.0 441.5L152.0 439.2L153.4 437.0L155.0 434.1L157.0 429.2L158.0 425.7L160.0 422.7L161.0 420.4L162.0 417.1L163.0 412.0L164.0 403.1L163.0 397.6L161.0 389.2L159.6 384.5L158.0 380.6L159.6 377.6L161.0 374.1L163.0 367.6L164.0 363.3L167.0 347.0L168.0 342.6L170.0 335.4Z"/>
<path fill="#ee1c1c" fill-rule="evenodd" d="M56.0 290.3L82.0 290.3L80.0 297.5L78.0 305.9L76.6 312.9L75.8 318.4L74.3 324.9L73.0 321.6L72.5 318.7L72.0 312.9L71.1 311.0L70.0 309.1L68.0 306.4L65.1 303.7ZM179.0 312.9L189.0 298.9L191.0 295.4L193.0 290.3L227.5 290.3L228.0 312.9L235.0 335.4L236.0 358.0L237.5 363.3L239.5 367.7L241.0 369.9L242.0 371.0L243.0 371.8L246.0 373.7L250.0 375.5L255.0 376.9L260.0 378.0L280.0 380.6L260.0 382.4L248.0 383.9L242.0 385.0L239.0 386.1L235.0 388.1L232.5 389.6L230.0 391.6L228.0 393.7L226.0 396.6L224.0 400.6L223.0 403.1L221.0 410.5L220.0 413.2L218.0 417.4L216.0 420.6L211.0 425.7L201.6 430.3L193.4 431.7L190.0 430.6L188.0 429.6L186.0 428.0L184.0 425.7L182.0 424.1L180.0 422.0L178.0 419.1L176.0 414.9L175.0 412.0L174.0 408.2L173.0 403.1L171.0 380.6L172.0 358.0L175.0 345.8L177.0 335.4ZM29.0 346.7L34.0 347.7L40.0 348.6L46.0 346.9L52.0 344.9L61.0 341.4L70.0 337.4L73.0 340.9L75.8 345.0L78.0 348.8L80.0 353.0L82.0 358.0L83.0 363.1L85.0 371.3L88.0 380.6L75.0 389.9L68.0 393.1L63.0 395.9L59.0 399.0L57.0 400.9L55.0 403.1L42.0 409.0L29.0 414.4Z"/>
<path fill="#f50000" fill-rule="evenodd" d="M187.0 312.9L190.0 311.3L192.0 309.7L197.0 305.2L200.3 301.8L203.0 299.4L205.1 296.8L211.7 296.7L215.0 298.1L215.4 298.4L218.0 303.5L220.0 306.7L222.0 309.5L225.0 312.9L226.0 330.4L227.0 333.5L228.0 334.7L229.0 335.4L229.0 358.0L228.0 380.6L225.0 382.1L223.0 383.6L221.0 385.8L220.0 387.4L219.0 389.5L218.0 392.3L217.0 396.5L216.0 403.1L210.0 407.9L204.1 413.1L201.6 414.4L193.9 414.4L193.4 414.2L188.0 408.6L182.0 403.1L182.0 380.6L181.0 358.0L182.0 355.9L183.0 351.4L184.0 335.4L185.0 332.9L186.0 327.8ZM29.0 368.0L48.0 367.3L54.0 366.7L59.0 365.8L62.0 364.8L64.0 363.8L65.0 363.0L66.0 361.9L66.9 360.6L68.0 358.0L69.0 369.8L70.0 374.3L71.0 376.8L72.0 378.3L73.0 379.3L75.0 380.6L66.9 381.6L60.2 383.0L55.0 384.6L40.0 388.4L29.0 391.9Z"/>
</g>
<rect x="29.0" y="290.3" width="269.2" height="203.1" fill="none" stroke="#000" stroke-width="1.25"/>
<text class="b" x="23.7" y="497.0" font-size="10.6" text-anchor="end" textLength="20.4" lengthAdjust="spacingAndGlyphs">1994</text>
<text class="b" x="21.1" y="505.6" font-size="10.6" textLength="15.8" lengthAdjust="spacingAndGlyphs">60W</text>
<text class="b" x="23.7" y="474.5" font-size="10.6" text-anchor="end" textLength="20.4" lengthAdjust="spacingAndGlyphs">1995</text>
<text class="b" x="51.0" y="505.6" font-size="10.6" textLength="15.8" lengthAdjust="spacingAndGlyphs">40W</text>
<text class="b" x="23.7" y="451.9" font-size="10.6" text-anchor="end" textLength="20.4" lengthAdjust="spacingAndGlyphs">1996</text>
<text class="b" x="80.9" y="505.6" font-size="10.6" textLength="15.8" lengthAdjust="spacingAndGlyphs">20W</text>
<text class="b" x="23.7" y="429.3" font-size="10.6" text-anchor="end" textLength="20.4" lengthAdjust="spacingAndGlyphs">1997</text>
<text class="b" x="116.1" y="505.6" font-size="10.6" textLength="5.2" lengthAdjust="spacingAndGlyphs">0</text>
<text class="b" x="23.7" y="406.8" font-size="10.6" text-anchor="end" textLength="20.4" lengthAdjust="spacingAndGlyphs">1998</text>
<text class="b" x="141.6" y="505.6" font-size="10.6" textLength="14.0" lengthAdjust="spacingAndGlyphs">20E</text>
<text class="b" x="23.7" y="384.2" font-size="10.6" text-anchor="end" textLength="20.4" lengthAdjust="spacingAndGlyphs">1999</text>
<text class="b" x="171.6" y="505.6" font-size="10.6" textLength="14.0" lengthAdjust="spacingAndGlyphs">40E</text>
<text class="b" x="23.7" y="361.6" font-size="10.6" text-anchor="end" textLength="20.4" lengthAdjust="spacingAndGlyphs">2000</text>
<text class="b" x="201.5" y="505.6" font-size="10.6" textLength="14.0" lengthAdjust="spacingAndGlyphs">60E</text>
<text class="b" x="23.7" y="339.1" font-size="10.6" text-anchor="end" textLength="20.4" lengthAdjust="spacingAndGlyphs">2001</text>
<text class="b" x="231.4" y="505.6" font-size="10.6" textLength="14.0" lengthAdjust="spacingAndGlyphs">80E</text>
<text class="b" x="23.7" y="316.5" font-size="10.6" text-anchor="end" textLength="20.4" lengthAdjust="spacingAndGlyphs">2002</text>
<text class="b" x="258.7" y="505.6" font-size="10.6" textLength="19.2" lengthAdjust="spacingAndGlyphs">100E</text>
<text class="b" x="23.7" y="293.9" font-size="10.6" text-anchor="end" textLength="20.4" lengthAdjust="spacingAndGlyphs">2003</text>
<text class="b" x="288.6" y="505.6" font-size="10.6" textLength="19.2" lengthAdjust="spacingAndGlyphs">120E</text>
<path d="M25.8 493.4H29.0M29.0 493.4V496.6M25.8 470.8H29.0M58.9 493.4V496.6M25.8 448.3H29.0M88.8 493.4V496.6M25.8 425.7H29.0M118.7 493.4V496.6M25.8 403.1H29.0M148.6 493.4V496.6M25.8 380.6H29.0M178.6 493.4V496.6M25.8 358.0H29.0M208.5 493.4V496.6M25.8 335.4H29.0M238.4 493.4V496.6M25.8 312.9H29.0M268.3 493.4V496.6M25.8 290.3H29.0M298.2 493.4V496.6" stroke="#000" stroke-width="1.2" fill="none"/>
<text x="88.8" y="283.1" font-size="14.6" textLength="22.5" lengthAdjust="spacingAndGlyphs">SLP</text>
<text x="119.7" y="283.1" font-size="14.6" textLength="22.9" lengthAdjust="spacingAndGlyphs">Obs</text>
<text x="151.6" y="283.1" font-size="14.6" textLength="86.7" lengthAdjust="spacing">(1994−2003)</text>
<text x="28.9" y="285.5" font-size="14.6" textLength="17.2" lengthAdjust="spacingAndGlyphs">(c)</text>
<path d="M21.8 518.5L45.6 514.3V522.6Z" fill="#0000ff" stroke="#00008c" stroke-width="0.4"/>
<path d="M304.5 518.5L280.5 514.3V522.6Z" fill="#f50000" stroke="#8c0000" stroke-width="0.4"/>
<rect x="45.60" y="514.3" width="23.49" height="8.3" fill="#3a3aec"/>
<rect x="69.09" y="514.3" width="23.49" height="8.3" fill="#5558ee"/>
<rect x="92.58" y="514.3" width="23.49" height="8.3" fill="#6880ee"/>
<rect x="116.07" y="514.3" width="23.49" height="8.3" fill="#7ca3f0"/>
<rect x="139.56" y="514.3" width="23.49" height="8.3" fill="#c6eef2"/>
<rect x="163.05" y="514.3" width="23.49" height="8.3" fill="#f0f1ca"/>
<rect x="186.54" y="514.3" width="23.49" height="8.3" fill="#f0a27a"/>
<rect x="210.03" y="514.3" width="23.49" height="8.3" fill="#f07864"/>
<rect x="233.52" y="514.3" width="23.49" height="8.3" fill="#f05050"/>
<rect x="257.01" y="514.3" width="23.49" height="8.3" fill="#ee1c1c"/>
<text class="b" x="45.6" y="530.6" font-size="9.1" text-anchor="middle">−1</text>
<text class="b" x="69.1" y="530.6" font-size="9.1" text-anchor="middle">−0.8</text>
<text class="b" x="92.6" y="530.6" font-size="9.1" text-anchor="middle">−0.6</text>
<text class="b" x="116.1" y="530.6" font-size="9.1" text-anchor="middle">−0.4</text>
<text class="b" x="139.6" y="530.6" font-size="9.1" text-anchor="middle">−0.2</text>
<text class="b" x="163.1" y="530.6" font-size="9.1" text-anchor="middle">0</text>
<text class="b" x="186.5" y="530.6" font-size="9.1" text-anchor="middle">0.2</text>
<text class="b" x="210.0" y="530.6" font-size="9.1" text-anchor="middle">0.4</text>
<text class="b" x="233.5" y="530.6" font-size="9.1" text-anchor="middle">0.6</text>
<text class="b" x="257.0" y="530.6" font-size="9.1" text-anchor="middle">0.8</text>
<text class="b" x="280.5" y="530.6" font-size="9.1" text-anchor="middle">1</text>
<path d="M45.60 514.3V522.6M69.09 514.3V522.6M92.58 514.3V522.6M116.07 514.3V522.6M139.56 514.3V522.6M163.05 514.3V522.6M186.54 514.3V522.6M210.03 514.3V522.6M233.52 514.3V522.6M257.01 514.3V522.6M280.50 514.3V522.6" stroke="#111" stroke-opacity="0.9" stroke-width="0.8" fill="none"/>
<path d="M21.8 518.5L45.6 514.3H280.5L304.5 518.5L280.5 522.6H45.6Z" fill="none" stroke="#000" stroke-opacity="0.35" stroke-width="0.5"/>
<text x="304.7" y="530.7" font-size="14.6" textLength="24.6" lengthAdjust="spacingAndGlyphs">hPa</text>
</g>
<g id="panel-d">
<g>
<rect x="381.0" y="335.4" width="269.1" height="112.8" fill="#f0f1ca"/>
<path fill="#c6eef2" d="M381.0 335.4L438.0 335.4L443.0 338.6L455.0 338.6L460.0 335.4L492.0 335.4L491.5 358.0L487.0 368.0L481.0 373.0L476.0 376.0L466.0 377.0L458.0 373.5L450.0 372.0L442.0 372.0L436.0 373.5L432.0 376.0L427.0 388.0L421.0 408.0L416.0 420.0L415.0 424.0L415.5 434.0L424.0 448.3L381.0 448.3Z"/>
<path fill="#7ca3f0" d="M389.0 358.0L393.0 356.0L408.0 355.0L412.0 356.0L415.0 358.0L413.0 361.5L408.0 366.0L393.0 368.0L391.0 364.5Z"/>
<path fill="#f0a27a" d="M525.0 335.4L616.0 335.4L613.0 344.0L603.0 351.0L590.0 358.0L595.0 362.0L603.0 364.4L619.0 365.0L635.0 368.0L650.1 373.0L650.1 412.0L641.0 426.0L625.0 426.0L619.0 417.0L609.0 408.0L601.0 404.5L593.0 403.0L585.0 404.5L581.0 406.0L565.0 417.0L552.0 425.0L550.0 426.0L550.0 448.3L511.0 448.3L512.0 425.0L509.0 408.0L506.5 388.0L506.2 380.5L525.5 335.4Z"/>
<path fill="#c6eef2" d="M576.0 448.3L581.0 441.0L591.0 436.0L605.0 435.6L625.0 437.0L650.1 438.0L650.1 448.3Z"/>
</g>
<rect x="381.0" y="290.3" width="269.1" height="203.1" fill="none" stroke="#000" stroke-width="1.25"/>
<text class="b" x="375.7" y="497.0" font-size="10.6" text-anchor="end" textLength="20.4" lengthAdjust="spacingAndGlyphs">1994</text>
<text class="b" x="373.1" y="505.6" font-size="10.6" textLength="15.8" lengthAdjust="spacingAndGlyphs">60W</text>
<text class="b" x="375.7" y="474.5" font-size="10.6" text-anchor="end" textLength="20.4" lengthAdjust="spacingAndGlyphs">1995</text>
<text class="b" x="403.0" y="505.6" font-size="10.6" textLength="15.8" lengthAdjust="spacingAndGlyphs">40W</text>
<text class="b" x="375.7" y="451.9" font-size="10.6" text-anchor="end" textLength="20.4" lengthAdjust="spacingAndGlyphs">1996</text>
<text class="b" x="432.9" y="505.6" font-size="10.6" textLength="15.8" lengthAdjust="spacingAndGlyphs">20W</text>
<text class="b" x="375.7" y="429.3" font-size="10.6" text-anchor="end" textLength="20.4" lengthAdjust="spacingAndGlyphs">1997</text>
<text class="b" x="468.1" y="505.6" font-size="10.6" textLength="5.2" lengthAdjust="spacingAndGlyphs">0</text>
<text class="b" x="375.7" y="406.8" font-size="10.6" text-anchor="end" textLength="20.4" lengthAdjust="spacingAndGlyphs">1998</text>
<text class="b" x="493.6" y="505.6" font-size="10.6" textLength="14.0" lengthAdjust="spacingAndGlyphs">20E</text>
<text class="b" x="375.7" y="384.2" font-size="10.6" text-anchor="end" textLength="20.4" lengthAdjust="spacingAndGlyphs">1999</text>
<text class="b" x="523.5" y="505.6" font-size="10.6" textLength="14.0" lengthAdjust="spacingAndGlyphs">40E</text>
<text class="b" x="375.7" y="361.6" font-size="10.6" text-anchor="end" textLength="20.4" lengthAdjust="spacingAndGlyphs">2000</text>
<text class="b" x="553.4" y="505.6" font-size="10.6" textLength="14.0" lengthAdjust="spacingAndGlyphs">60E</text>
<text class="b" x="375.7" y="339.1" font-size="10.6" text-anchor="end" textLength="20.4" lengthAdjust="spacingAndGlyphs">2001</text>
<text class="b" x="583.3" y="505.6" font-size="10.6" textLength="14.0" lengthAdjust="spacingAndGlyphs">80E</text>
<text class="b" x="375.7" y="316.5" font-size="10.6" text-anchor="end" textLength="20.4" lengthAdjust="spacingAndGlyphs">2002</text>
<text class="b" x="610.6" y="505.6" font-size="10.6" textLength="19.2" lengthAdjust="spacingAndGlyphs">100E</text>
<text class="b" x="375.7" y="293.9" font-size="10.6" text-anchor="end" textLength="20.4" lengthAdjust="spacingAndGlyphs">2003</text>
<text class="b" x="640.5" y="505.6" font-size="10.6" textLength="19.2" lengthAdjust="spacingAndGlyphs">120E</text>
<path d="M377.8 493.4H381.0M381.0 493.4V496.6M377.8 470.8H381.0M410.9 493.4V496.6M377.8 448.3H381.0M440.8 493.4V496.6M377.8 425.7H381.0M470.7 493.4V496.6M377.8 403.1H381.0M500.6 493.4V496.6M377.8 380.6H381.0M530.5 493.4V496.6M377.8 358.0H381.0M560.4 493.4V496.6M377.8 335.4H381.0M590.3 493.4V496.6M377.8 312.9H381.0M620.2 493.4V496.6M377.8 290.3H381.0M650.1 493.4V496.6" stroke="#000" stroke-width="1.2" fill="none"/>
<text x="416.4" y="283.1" font-size="14.6" textLength="21.2" lengthAdjust="spacingAndGlyphs">SLP</text>
<text x="447.6" y="283.1" font-size="14.6" textLength="14.3" lengthAdjust="spacingAndGlyphs">F2</text>
<text x="472.4" y="283.1" font-size="14.6" textLength="45.6" lengthAdjust="spacingAndGlyphs">12mem</text>
<text x="527.6" y="283.1" font-size="14.6" textLength="86.8" lengthAdjust="spacing">(1994−2003)</text>
<text x="381.6" y="286.8" font-size="14.6" textLength="17.2" lengthAdjust="spacingAndGlyphs">(d)</text>
<path d="M373.8 518.5L397.6 514.3V522.6Z" fill="#0000ff" stroke="#00008c" stroke-width="0.4"/>
<path d="M656.5 518.5L632.5 514.3V522.6Z" fill="#f50000" stroke="#8c0000" stroke-width="0.4"/>
<rect x="397.60" y="514.3" width="23.49" height="8.3" fill="#3a3aec"/>
<rect x="421.09" y="514.3" width="23.49" height="8.3" fill="#5558ee"/>
<rect x="444.58" y="514.3" width="23.49" height="8.3" fill="#6880ee"/>
<rect x="468.07" y="514.3" width="23.49" height="8.3" fill="#7ca3f0"/>
<rect x="491.56" y="514.3" width="23.49" height="8.3" fill="#c6eef2"/>
<rect x="515.05" y="514.3" width="23.49" height="8.3" fill="#f0f1ca"/>
<rect x="538.54" y="514.3" width="23.49" height="8.3" fill="#f0a27a"/>
<rect x="562.03" y="514.3" width="23.49" height="8.3" fill="#f07864"/>
<rect x="585.52" y="514.3" width="23.49" height="8.3" fill="#f05050"/>
<rect x="609.01" y="514.3" width="23.49" height="8.3" fill="#ee1c1c"/>
<text class="b" x="397.6" y="530.6" font-size="9.1" text-anchor="middle">−1</text>
<text class="b" x="421.1" y="530.6" font-size="9.1" text-anchor="middle">−0.8</text>
<text class="b" x="444.6" y="530.6" font-size="9.1" text-anchor="middle">−0.6</text>
<text class="b" x="468.1" y="530.6" font-size="9.1" text-anchor="middle">−0.4</text>
<text class="b" x="491.6" y="530.6" font-size="9.1" text-anchor="middle">−0.2</text>
<text class="b" x="515.0" y="530.6" font-size="9.1" text-anchor="middle">0</text>
<text class="b" x="538.5" y="530.6" font-size="9.1" text-anchor="middle">0.2</text>
<text class="b" x="562.0" y="530.6" font-size="9.1" text-anchor="middle">0.4</text>
<text class="b" x="585.5" y="530.6" font-size="9.1" text-anchor="middle">0.6</text>
<text class="b" x="609.0" y="530.6" font-size="9.1" text-anchor="middle">0.8</text>
<text class="b" x="632.5" y="530.6" font-size="9.1" text-anchor="middle">1</text>
<path d="M397.60 514.3V522.6M421.09 514.3V522.6M444.58 514.3V522.6M468.07 514.3V522.6M491.56 514.3V522.6M515.05 514.3V522.6M538.54 514.3V522.6M562.03 514.3V522.6M585.52 514.3V522.6M609.01 514.3V522.6M632.50 514.3V522.6" stroke="#111" stroke-opacity="0.9" stroke-width="0.8" fill="none"/>
<path d="M373.8 518.5L397.6 514.3H632.5L656.5 518.5L632.5 522.6H397.6Z" fill="none" stroke="#000" stroke-opacity="0.35" stroke-width="0.5"/>
<text x="656.7" y="530.7" font-size="14.6" textLength="24.6" lengthAdjust="spacingAndGlyphs">hPa</text>
</g>
</svg>
</body></html>
